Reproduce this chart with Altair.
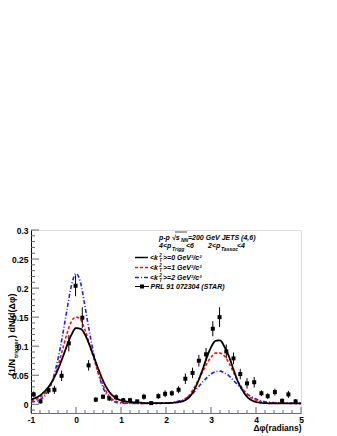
import altair as alt
import pandas as pd

# ---------------- data ----------------
pt_x = [-0.94, -0.79, -0.61, -0.48, -0.32, -0.16, -0.01, 0.14, 0.28, 0.44, 0.60, 0.74, 0.89,
        1.05, 1.20, 1.36, 1.51, 1.67, 1.83, 1.98, 2.13, 2.28, 2.43, 2.59, 2.73, 2.89, 3.04,
        3.19, 3.34, 3.50, 3.65, 3.80, 3.96, 4.12, 4.26, 4.42, 4.58, 4.72, 4.88]
pt_y = [0.017, 0.005, 0.024, 0.025, 0.049, 0.105, 0.204, 0.149, 0.067, 0.008, 0.013, 0.010, 0.012,
        0.007, 0.007, 0.005, 0.013, 0.002, 0.014, 0.018, 0.019, 0.025, 0.044, 0.054, 0.075, 0.086,
        0.130, 0.150, 0.091, 0.079, 0.052, 0.036, 0.038, 0.019, 0.014, 0.021, 0.006, 0.017, 0.005]
pt_err = [0.005, 0.004, 0.006, 0.007, 0.009, 0.014, 0.018, 0.018, 0.009, 0.004, 0.004, 0.004, 0.005,
          0.004, 0.004, 0.003, 0.005, 0.002, 0.005, 0.006, 0.005, 0.006, 0.009, 0.009, 0.010, 0.011,
          0.013, 0.017, 0.012, 0.010, 0.009, 0.009, 0.009, 0.005, 0.005, 0.006, 0.004, 0.006, 0.004]

curve_x = [-1.0, -0.9, -0.8, -0.7, -0.6, -0.5, -0.4, -0.3, -0.2, -0.1, 0.0, 0.1, 0.2, 0.3, 0.4,
           0.5, 0.6, 0.7, 0.8, 0.9, 1.0, 1.1, 1.2, 1.4, 1.6, 1.8, 2.0, 2.2, 2.3, 2.4, 2.5, 2.6,
           2.7, 2.8, 2.9, 3.0, 3.1, 3.2, 3.3, 3.4, 3.5, 3.6, 3.7, 3.8, 3.9, 4.0, 4.2, 4.5, 5.0]
kt0_y = [0.008, 0.011, 0.015, 0.022, 0.031, 0.044, 0.060, 0.080, 0.101, 0.120, 0.131, 0.130, 0.120,
         0.102, 0.081, 0.060, 0.041, 0.026, 0.016, 0.010, 0.007, 0.005, 0.004, 0.003, 0.002, 0.002,
         0.002, 0.003, 0.004, 0.006, 0.011, 0.021, 0.037, 0.057, 0.079, 0.098, 0.109, 0.110, 0.099,
         0.082, 0.060, 0.039, 0.024, 0.013, 0.007, 0.004, 0.002, 0.0015, 0.0015]
kt1_y = [0.006, 0.008, 0.012, 0.018, 0.028, 0.043, 0.066, 0.094, 0.122, 0.143, 0.150, 0.146, 0.128,
         0.103, 0.078, 0.053, 0.033, 0.018, 0.009, 0.005, 0.003, 0.002, 0.002, 0.0015, 0.0015, 0.0015,
         0.002, 0.003, 0.004, 0.008, 0.014, 0.025, 0.039, 0.054, 0.069, 0.081, 0.088, 0.088, 0.083,
         0.071, 0.055, 0.039, 0.027, 0.017, 0.011, 0.007, 0.003, 0.002, 0.0015]
kt2_y = [0.004, 0.005, 0.008, 0.014, 0.026, 0.047, 0.078, 0.118, 0.163, 0.205, 0.225, 0.210, 0.168,
         0.124, 0.084, 0.052, 0.029, 0.014, 0.006, 0.003, 0.002, 0.0015, 0.0015, 0.0015, 0.0015, 0.0015,
         0.002, 0.004, 0.006, 0.008, 0.013, 0.019, 0.028, 0.037, 0.045, 0.052, 0.056, 0.057, 0.054,
         0.049, 0.041, 0.033, 0.025, 0.018, 0.013, 0.009, 0.0045, 0.0025, 0.0015]

x_major = [-1, 0, 1, 2, 3, 4, 5]
x_minor = [v / 5 for v in range(-5, 25) if v % 5 != 0]
y_major = [0, 0.05, 0.1, 0.15, 0.2, 0.25, 0.3]
y_minor = [v / 100 for v in range(-1, 30) if v % 5 != 0]

# ---------------- styling / layout ----------------
FONT = "Liberation Sans"
W, H = 270, 183
xs = alt.Scale(domain=[-1, 5], nice=False, zero=False)
ys = alt.Scale(domain=[-0.015, 0.3], nice=False, zero=False)

xaxis = alt.Axis(values=x_major, labelExpr="'' + datum.value", title="Δφ(radians)",
                 titleAnchor="end", titleFont=FONT, titleFontSize=8.5, titleFontWeight="bold",
                 titlePadding=0, labelFont=FONT, labelFontSize=8.5, labelFontWeight="bold",
                 labelPadding=2, labelFlush=False, labelOverlap=False, ticks=False, grid=False,
                 domainColor="#c84848", domainWidth=1, labelColor="black", titleColor="black")
yaxis = alt.Axis(values=y_major, format="~g", title=None, labelFont=FONT, labelFontSize=8.5,
                 labelFontWeight="bold", labelPadding=3, labelFlush=False, labelOverlap=False,
                 ticks=False, grid=False, domainColor="black", domainWidth=1, labelColor="black")

one = pd.DataFrame({"k": [0]})


def X(field):
    return alt.X(field, type="quantitative", scale=xs, axis=xaxis)


def Y(field):
    return alt.Y(field, type="quantitative", scale=ys, axis=yaxis)


def curve(yvals, color, dash, width):
    df = pd.DataFrame({"x": curve_x, "y": yvals})
    return alt.Chart(df).mark_line(color=color, strokeDash=dash, strokeWidth=width,
                                   interpolate="monotone", clip=True).encode(x=X("x"), y=Y("y"))


def txt(text, x, y, size=7, align="left", angle=0, style="italic", weight="bold"):
    return alt.Chart(one).mark_text(text=text, align=align, baseline="alphabetic", angle=angle,
                                    font=FONT, fontSize=size, fontStyle=style, fontWeight=weight,
                                    color="black").encode(x=alt.value(x), y=alt.value(y))


def seg(x1, x2, y, color, dash, width=1.6):
    return alt.Chart(one).mark_rule(color=color, strokeDash=dash, strokeWidth=width).encode(
        x=alt.value(x1), x2=alt.value(x2), y=alt.value(y))


# ticks (inward, ROOT style)
def yticks(vals, length):
    return alt.Chart(pd.DataFrame({"v": vals})).mark_rule(color="#666", strokeWidth=1).encode(
        y=Y("v"), x=alt.value(0), x2=alt.value(length))


def xticks(vals, length):
    return alt.Chart(pd.DataFrame({"v": vals})).mark_rule(color="#666", strokeWidth=1).encode(
        x=X("v"), y=alt.value(H), y2=alt.value(H - length))


pts = pd.DataFrame({"x": pt_x, "y": pt_y,
                    "lo": [a - b for a, b in zip(pt_y, pt_err)],
                    "hi": [a + b for a, b in zip(pt_y, pt_err)]})
errbars = alt.Chart(pts).mark_rule(color="black", strokeWidth=1).encode(x=X("x"), y=Y("lo"), y2="hi")
markers = alt.Chart(pts).mark_square(color="black", opacity=1, size=16).encode(x=X("x"), y=Y("y"))

layers = [
    yticks(y_minor, 4), yticks(y_major, 8), xticks(x_minor, 3), xticks(x_major, 6),
    curve(kt2_y, "#2020ff", [4, 2, 1, 2], 1.6),
    curve(kt1_y, "#ff1010", [3, 2], 1.6),
    curve(kt0_y, "black", [1, 0], 1.8),
    errbars, markers,
    # y-axis title with subscript
    txt("(1/N", -16, 146, size=9, angle=270, style="normal"),
    txt("trigger", -13, 128, size=6, angle=270, style="normal"),
    txt(") dN/d(Δφ)", -16, 108, size=9, angle=270, style="normal"),
    # legend header
    txt("p-p √s", 128, 9.5),
    txt("NN", 150, 12, size=5),
    txt("=200 GeV JETS (4,6)", 157, 9.5),
    seg(144, 156, 2, "black", [1, 0], 0.7),
    txt("4<p", 128, 17.5),
    txt("Trigg", 141, 20.5, size=5),
    txt("<6", 155, 17.5),
    txt("2<p", 177, 17.5),
    txt("Tassoc", 190, 20.5, size=5),
    txt("<4", 206, 17.5),
]

entries = [(30, "black", [1, 0], ">=0 GeV²/c²"),
           (40, "#ff1010", [3, 2], ">=1 GeV²/c²"),
           (50, "#2020ff", [4, 2, 1, 2], ">=2 GeV²/c²")]
for yb, col, dash, rest in entries:
    layers += [seg(104, 117, yb - 2.5, col, dash),
               txt("<k", 127, yb, align="right"),
               txt("2", 128.3, yb - 2.8, size=4.5),
               txt("T", 128.3, yb + 1.8, size=4.5),
               txt(rest, 132, yb)]

layers += [seg(104, 118, 56.5, "black", [1, 0], 1),
           alt.Chart(one).mark_square(color="black", opacity=1, size=16).encode(
               x=alt.value(111), y=alt.value(56.5)),
           txt("PRL 91 072304 (STAR)", 119.5, 59)]

chart = alt.layer(*layers).properties(
    width=W, height=H,
    padding={"left": 23, "top": 222, "right": 8, "bottom": 21},
    autosize=alt.AutoSizeParams(type="none"),
).configure_view(stroke="#7a6464", strokeWidth=1).configure(background="white")

chart.save("out.html", embed_options={"renderer": "svg", "actions": False})
